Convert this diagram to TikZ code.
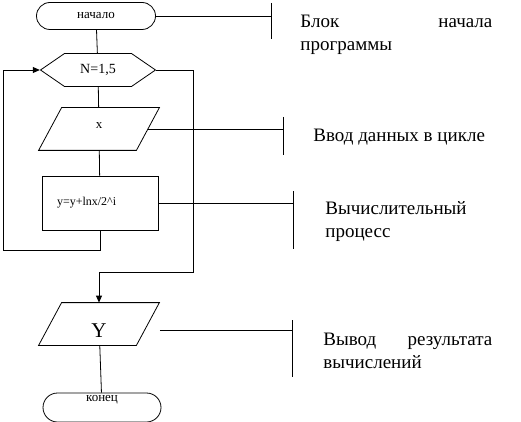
\documentclass[tikz,border=0pt]{standalone}
\usepackage{fontspec}
\setmainfont{Liberation Serif}
\usetikzlibrary{positioning,shapes.misc,shapes.symbols,arrows.meta}

\begin{document}
\begin{tikzpicture}[x=1pt,y=-1pt,line width=0.8pt,
  term/.style={draw,rounded rectangle,minimum width=119pt,minimum height=27pt,inner sep=0pt,font=\fontsize{13}{13}\selectfont},
  cyc/.style={draw,signal,signal to=east and west,signal pointer angle=69,minimum width=115pt,minimum height=33pt,inner sep=0pt,font=\fontsize{14}{14}\selectfont},
  io/.style={rectangle,minimum width=97pt,minimum height=42pt,inner sep=0pt},
  proc/.style={draw,rectangle,minimum width=116pt,minimum height=54pt,inner sep=0pt},
  note/.style={anchor=base west,align=left,inner sep=0pt,font=\fontsize{19}{23}\selectfont},
  arr/.style={-{Triangle[length=7pt,width=6pt]}}]
\useasboundingbox (0,0) rectangle (521,422);
%
\node[term] (start) at (96,16) {начало};
\node[cyc] (loop) at (98,70) {N=1,5};
\node[io,font=\fontsize{13}{13}\selectfont,text height=6pt,text depth=6pt] (input) at (99,129) {x};
\node[proc,text width=86pt,align=left,font=\fontsize{12}{12}\selectfont] (calc) at (100,203) {y=y+lnx/2\textasciicircum i};
\node[io,font=\fontsize{21}{21}\selectfont,text height=26pt,text depth=0pt] (output) at (99,324) {Y};
\node[term,minimum width=118pt,minimum height=29pt,text height=8pt,text depth=21pt] (stop) at (102,407.5) {конец};
%
\draw ([xshift=11.5pt]input.north west) -- ([xshift=11.5pt]input.north east)
  -- ([xshift=-11.5pt]input.south east) -- ([xshift=-11.5pt]input.south west) -- cycle;
\draw ([xshift=11.5pt]output.north west) -- ([xshift=11.5pt]output.north east)
  -- ([xshift=-11.5pt]output.south east) -- ([xshift=-11.5pt]output.south west) -- cycle;
%
\draw (start) -- (loop);
\draw (loop) -- (input);
\draw (input) -- (calc);
\draw (output) -- (stop);
%
\coordinate (back) at (3,250);
\draw[arr] (calc.south) |- (back) |- (loop.west);
\coordinate (exit) at (193,272);
\draw[arr] (loop.east) -| (exit) -| (output.north);
%
\coordinate (b1a) at (271,3);
\coordinate (b1b) at (271,39);
\draw (start.east) -- (start.east -| b1a);
\draw (b1a) -- (b1b);
\coordinate (b2a) at (283,117);
\coordinate (b2b) at (283,155);
\draw (input.east) -- (input.east -| b2a);
\draw (b2a) -- (b2b);
\coordinate (b3a) at (293,191);
\coordinate (b3b) at (293,249);
\draw (calc.east) -- (calc.east -| b3a);
\draw (b3a) -- (b3b);
\coordinate (b4a) at (292,320);
\coordinate (b4b) at (292,377);
\coordinate (out4) at ([xshift=12pt,yshift=-6pt]output.east);
\draw (out4) -- (out4 -| b4a);
\draw (b4a) -- (b4b);
%
\node[note] (t1) at (300,51) {\hbox to 192pt{Блок\hfill начала}\\программы};
\node[note] (t2) at (313,142) {Ввод данных в цикле};
\node[note] (t3) at (325,237) {Вычислительный\\процесс};
\node[note] (t4) at (323,368) {\hbox to 169pt{Вывод\hfill результата}\\вычислений};
\end{tikzpicture}
\end{document}
